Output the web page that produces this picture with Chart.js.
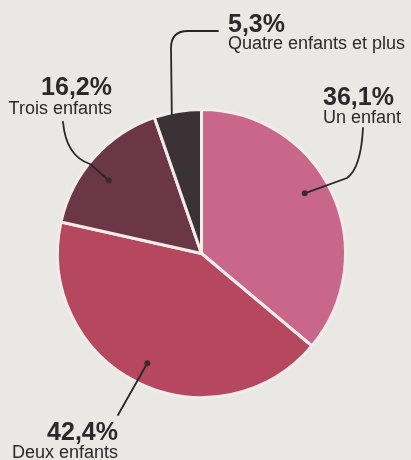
<!DOCTYPE html>
<html>
<head>
<meta charset="utf-8">
<script src="https://cdn.jsdelivr.net/npm/chart.js@4"></script>
<style>
  html, body { margin: 0; padding: 0; background: #e9e8e4; }
  #wrap { width: 411px; height: 460px; position: relative; }
</style>
</head>
<body>
<div id="wrap"><canvas id="pie" width="411" height="460"></canvas></div>
<script>
// Data
const categories = ['Un enfant', 'Deux enfants', 'Trois enfants', 'Quatre enfants et plus'];
const shares = [36.1, 42.4, 16.2, 5.3];
const shareLabels = ['36,1%', '42,4%', '16,2%', '5,3%'];
const sliceColors = ['#c9678a', '#b5485f', '#6b3747', '#3a3234'];

// Callout layout: text block + leader line; the end point sits on the arc
// (along = fraction of the slice angle, depth = fraction of the radius)
const callouts = [
  { align: 'left',  x: 323, pctY: 105, nameY: 123, along: 0.46, depth: 0.83, dot: true,
    start: [363, 128], curve: [[361, 168], [347, 178]] },
  { align: 'right', x: 118, pctY: 440, nameY: 458, along: 0.5, depth: 0.85, dot: true,
    start: [118, 415], curve: null },
  { align: 'right', x: 112, pctY: 95,  nameY: 114, along: 0.44, depth: 0.82, dot: true,
    start: [63, 122], curve: [[66, 156], [90, 164]] },
  { align: 'left',  x: 228, pctY: 32,  nameY: 49,  along: 0.37, depth: 0.99, dot: false,
    start: [218, 31], corner: [[188, 31], [171, 31], [171, 48]] }
];

const calloutPlugin = {
  id: 'callouts',
  afterDraw(chart) {
    const ctx = chart.ctx;
    const arcs = chart.getDatasetMeta(0).data;
    ctx.save();
    callouts.forEach((c, i) => {
      const arc = arcs[i];
      const ang = arc.startAngle + (arc.endAngle - arc.startAngle) * c.along;
      const ex = arc.x + Math.cos(ang) * arc.outerRadius * c.depth;
      const ey = arc.y + Math.sin(ang) * arc.outerRadius * c.depth;

      // leader line
      ctx.strokeStyle = '#2a2628';
      ctx.lineWidth = 1.8;
      ctx.lineCap = 'round';
      ctx.lineJoin = 'round';
      ctx.beginPath();
      ctx.moveTo(c.start[0], c.start[1]);
      if (c.corner) {
        ctx.lineTo(c.corner[0][0], c.corner[0][1]);
        ctx.quadraticCurveTo(c.corner[1][0], c.corner[1][1], c.corner[2][0], c.corner[2][1]);
      } else if (c.curve) {
        ctx.quadraticCurveTo(c.curve[0][0], c.curve[0][1], c.curve[1][0], c.curve[1][1]);
      }
      ctx.lineTo(ex, ey);
      ctx.stroke();
      if (c.dot) {
        ctx.fillStyle = '#3a2a30';
        ctx.beginPath();
        ctx.arc(ex, ey, 3, 0, Math.PI * 2);
        ctx.fill();
      }

      // texts
      ctx.fillStyle = '#2b2a2a';
      ctx.textAlign = c.align;
      ctx.textBaseline = 'alphabetic';
      ctx.font = 'bold 25px "Liberation Sans", Arial, sans-serif';
      ctx.fillText(shareLabels[i], c.x, c.pctY);
      ctx.font = '18px "Liberation Sans", Arial, sans-serif';
      ctx.fillText(categories[i], c.x, c.nameY);
    });
    ctx.restore();
  }
};

new Chart(document.getElementById('pie'), {
  type: 'pie',
  data: {
    labels: categories,
    datasets: [{
      data: shares,
      backgroundColor: sliceColors,
      borderColor: '#f3eaea',
      borderWidth: 3
    }]
  },
  options: {
    responsive: false,
    animation: false,
    layout: { padding: { top: 108, bottom: 61, left: 56, right: 64 } },
    plugins: {
      legend: { display: false },
      tooltip: { enabled: false }
    }
  },
  plugins: [calloutPlugin]
});
</script>
</body>
</html>
